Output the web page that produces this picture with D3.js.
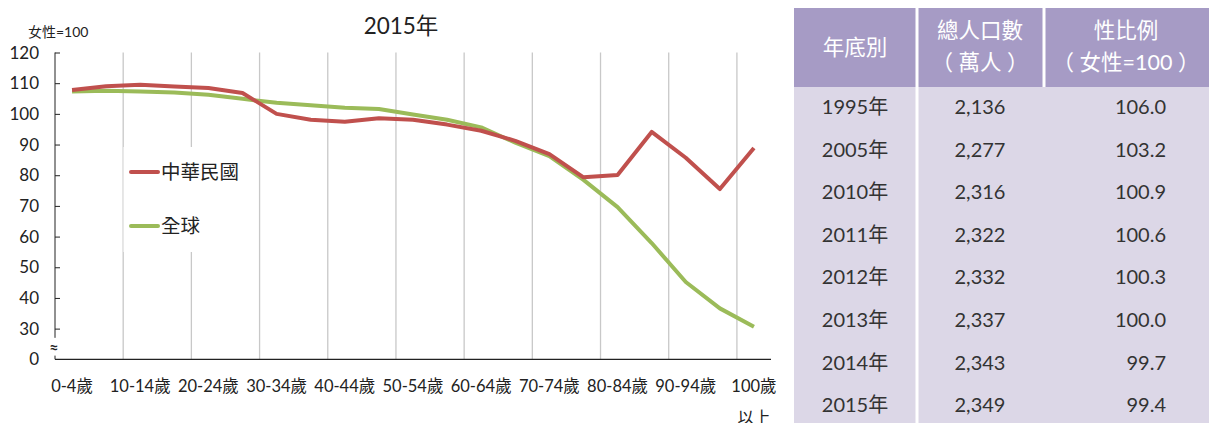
<!DOCTYPE html>
<html>
<head>
<meta charset="utf-8">
<script src="https://cdn.jsdelivr.net/npm/d3@7"></script>
<style>
  body { margin: 0; background: #fff; }
  svg { font-family: Lato, "Noto Sans CJK TC", sans-serif; }
</style>
</head>
<body>
<svg id="chart" width="1209" height="423"></svg>
<script>
// age groups, 5-year steps
const ageGroups = ["0-4歲", "5-9歲", "10-14歲", "15-19歲", "20-24歲", "25-29歲", "30-34歲",
    "35-39歲", "40-44歲", "45-49歲", "50-54歲", "55-59歲", "60-64歲", "65-69歲", "70-74歲",
    "75-79歲", "80-84歲", "85-89歲", "90-94歲", "95-99歲", "100歲以上"];

// sex ratio (female = 100)
const taiwanRatio = [107.8, 109.0, 109.5, 108.9, 108.4, 106.8, 100.0, 98.1, 97.4, 98.6, 98.1,
    96.5, 94.5, 91.2, 86.9, 79.3, 80.1, 94.1, 85.7, 75.5, 88.9];
const worldRatio = [107.3, 107.5, 107.3, 107.0, 106.2, 104.9, 103.6, 102.8, 102.0, 101.6, 99.8,
    98.1, 95.6, 90.6, 86.2, 78.5, 69.6, 57.9, 45.2, 36.6, 30.6];

const yTicks = [20, 30, 40, 50, 60, 70, 80, 90, 100, 110, 120];

// table on the right
const tableYears = ["1995年", "2005年", "2010年", "2011年", "2012年", "2013年", "2014年", "2015年"];
const tablePop = ["2,136", "2,277", "2,316", "2,322", "2,332", "2,337", "2,343", "2,349"];
const tableRatio = ["106.0", "103.2", "100.9", "100.6", "100.3", "100.0", "99.7", "99.4"];

const svg = d3.select("#chart");
const red = "#c0504d", green = "#9bbb59";

const x = d3.scaleBand().domain(ageGroups).range([55, 771]);
const y = d3.scaleLinear().domain([20, 120]).range([359.3, 52.5]);
const cx = d => x(d) + x.bandwidth() / 2;

// title and unit
svg.append("text").attr("x", 401).attr("y", 34).attr("text-anchor", "middle")
    .attr("font-size", 22.5).attr("fill", "#222").text("2015年");
svg.append("text").attr("x", 28).attr("y", 37)
    .attr("font-size", 14).attr("fill", "#222").text("女性=100");

// vertical gridlines every two categories
svg.append("g").selectAll("line")
    .data(ageGroups.filter((d, i) => i > 0 && i % 2 === 0))
    .enter().append("line")
    .attr("x1", d => x(d)).attr("x2", d => x(d))
    .attr("y1", y(120)).attr("y2", y(20))
    .attr("stroke", "#c8c8c8").attr("stroke-width", 1.3);

// y axis (with break between 30 and 0)
const yAxis = svg.append("g").attr("transform", "translate(55,0)")
    .call(d3.axisRight(y).tickValues(yTicks.slice(1)).tickSize(5).tickFormat(""));
yAxis.select(".domain").remove();
yAxis.selectAll("line").attr("stroke", "#222");
yAxis.append("line").attr("x1", 0).attr("x2", 0).attr("y1", y(120)).attr("y2", y(27))
    .attr("stroke", "#222");
yAxis.append("line").attr("x1", 0).attr("x2", 0).attr("y1", y(21.2)).attr("y2", y(20))
    .attr("stroke", "#222");
svg.append("text").attr("x", 54).attr("y", 353).attr("text-anchor", "middle")
    .attr("font-size", 16).attr("font-weight", "bold").attr("fill", "#222").text("≈");

svg.append("g").selectAll("text")
    .data(yTicks)
    .enter().append("text")
    .attr("x", 39).attr("y", d => y(d) + 6)
    .attr("text-anchor", "end").attr("font-size", 17).attr("fill", "#222")
    .text(d => d === 20 ? "0" : d);

// x axis
svg.append("line").attr("x1", 55).attr("x2", 771).attr("y1", y(20)).attr("y2", y(20))
    .attr("stroke", "#222").attr("stroke-width", 1.2);
const xLabels = svg.append("g").selectAll("text")
    .data(ageGroups.filter((d, i) => i % 2 === 0))
    .enter().append("text")
    .attr("x", d => cx(d)).attr("y", 392)
    .attr("text-anchor", "middle").attr("font-size", 16.5).attr("fill", "#222");
xLabels.each(function(d) {
    const t = d3.select(this);
    if (d === "100歲以上") {
        t.append("tspan").attr("x", cx(d)).text("100歲");
        t.append("tspan").attr("x", cx(d)).attr("dy", 32).text("以上");
    } else {
        t.text(d);
    }
});

// lines
const line = d3.line().x((d, i) => cx(ageGroups[i])).y(d => y(d));
svg.append("path").datum(worldRatio).attr("d", line)
    .attr("fill", "none").attr("stroke", green).attr("stroke-width", 4).attr("stroke-linejoin", "round");
svg.append("path").datum(taiwanRatio).attr("d", line)
    .attr("fill", "none").attr("stroke", red).attr("stroke-width", 4).attr("stroke-linejoin", "round");

// legend
svg.append("rect").attr("x", 123.5).attr("y", 147).attr("width", 134).attr("height", 105).attr("fill", "#fff");
const legend = [{name: "中華民國", color: red, y: 172}, {name: "全球", color: green, y: 226}];
legend.forEach(l => {
    svg.append("line").attr("x1", 131).attr("x2", 158).attr("y1", l.y).attr("y2", l.y)
        .attr("stroke", l.color).attr("stroke-width", 4).attr("stroke-linecap", "round");
    svg.append("text").attr("x", 161).attr("y", l.y + 7).attr("font-size", 19.5)
        .attr("fill", "#222").text(l.name);
});

// table
const tX = [794, 917, 1044, 1209];
const headTop = 8, headBottom = 87, rowH = 42.6;
const table = svg.append("g");
table.append("rect").attr("x", tX[0]).attr("y", headTop).attr("width", tX[3] - tX[0])
    .attr("height", headBottom - headTop).attr("fill", "#a69bc5");
table.append("rect").attr("x", tX[0]).attr("y", headBottom).attr("width", tX[3] - tX[0])
    .attr("height", 423 - headBottom).attr("fill", "#dcd7e7");
table.append("line").attr("x1", tX[1]).attr("x2", tX[1]).attr("y1", headTop).attr("y2", 423)
    .attr("stroke", "#fff").attr("stroke-width", 3);
table.append("line").attr("x1", tX[2]).attr("x2", tX[2]).attr("y1", headTop).attr("y2", headBottom)
    .attr("stroke", "#fff").attr("stroke-width", 3);

const head = table.append("g").attr("fill", "#fff").attr("font-size", 21.5).attr("text-anchor", "middle");
head.append("text").attr("x", 855).attr("y", 55).text("年底別");
head.append("text").attr("x", 980).attr("y", 38).text("總人口數");
head.append("text").attr("x", 980).attr("y", 70).text("（ 萬人 ）");
head.append("text").attr("x", 1126).attr("y", 38).text("性比例");
head.append("text").attr("x", 1126).attr("y", 70).text("（ 女性=100 ）");

const rows = table.append("g").attr("fill", "#333").attr("font-size", 20);
rows.selectAll(".yr").data(tableYears).enter().append("text")
    .attr("x", 855).attr("y", (d, i) => 114 + i * rowH).attr("text-anchor", "middle").text(d => d);
rows.selectAll(".pop").data(tablePop).enter().append("text")
    .attr("x", 980).attr("y", (d, i) => 114 + i * rowH).attr("text-anchor", "middle").text(d => d);
rows.selectAll(".ratio").data(tableRatio).enter().append("text")
    .attr("x", 1166).attr("y", (d, i) => 114 + i * rowH).attr("text-anchor", "end").text(d => d);
</script>
</body>
</html>
